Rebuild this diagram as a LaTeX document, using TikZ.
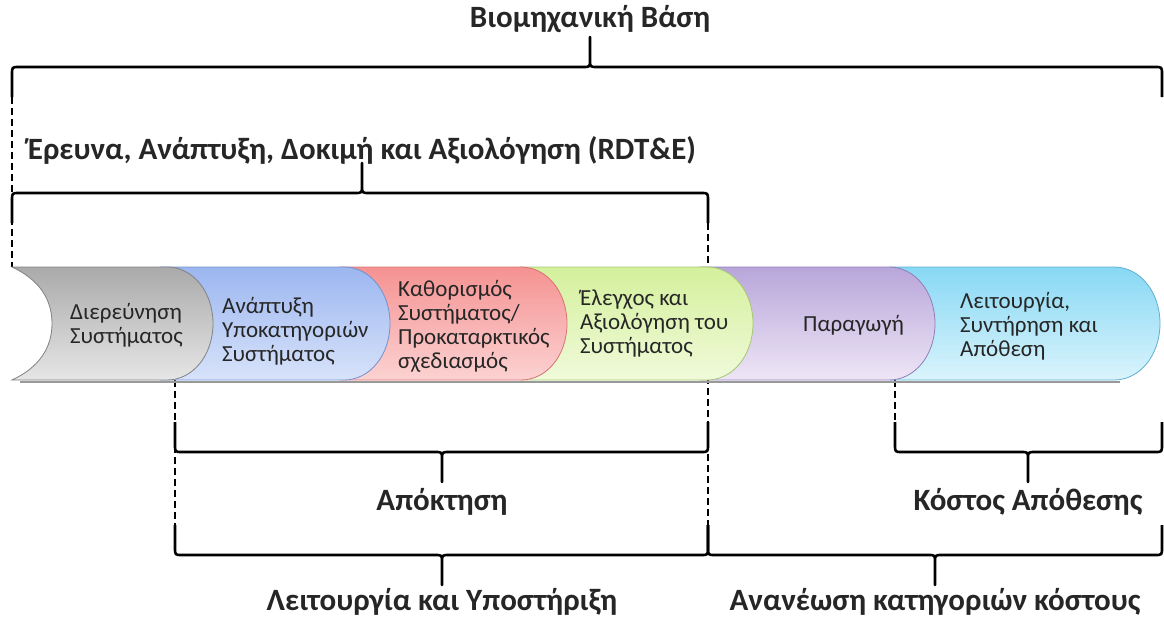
\documentclass[tikz,border=0pt]{standalone}
\usepackage{fontspec}
\setmainfont{Carlito}
\definecolor{grayT}{RGB}{170,170,170}
\definecolor{grayB}{RGB}{230,230,230}
\definecolor{grayE}{RGB}{130,130,130}
\definecolor{blueT}{RGB}{156,182,240}
\definecolor{blueB}{RGB}{216,227,250}
\definecolor{blueE}{RGB}{115,145,205}
\definecolor{redT}{RGB}{245,146,146}
\definecolor{redB}{RGB}{252,210,210}
\definecolor{redE}{RGB}{215,115,115}
\definecolor{greenT}{RGB}{212,240,156}
\definecolor{greenB}{RGB}{240,250,218}
\definecolor{greenE}{RGB}{165,200,115}
\definecolor{purpleT}{RGB}{184,166,218}
\definecolor{purpleB}{RGB}{238,230,246}
\definecolor{purpleE}{RGB}{145,125,185}
\definecolor{cyanT}{RGB}{136,216,244}
\definecolor{cyanB}{RGB}{218,244,252}
\definecolor{cyanE}{RGB}{95,175,210}
% bar with ends and a middle tip; #5 > 0: ends go down, tip goes up
\newcommand{\drawbrace}[5]{
  \draw[braceline] (#1,#3+#5) -- (#1,#3+0.25*#5) .. controls (#1,#3) .. (#1+7,#3) -- (#4-7,#3)
    .. controls (#4,#3) .. (#4,#3-0.25*#5) -- (#4,#3-#5) -- (#4,#3-0.25*#5)
    .. controls (#4,#3) .. (#4+7,#3) -- (#2-7,#3) .. controls (#2,#3) .. (#2,#3+0.25*#5) -- (#2,#3+#5);
}
% phase with a rounded right end
\newcommand{\phasebar}[5]{
  \path[draw=#5, line width=0.8pt, top color=#3, bottom color=#4] (#1,267) -- (#2-46,267)
    .. controls (#2-20,267) and (#2,292) .. (#2,323.5) .. controls (#2,355) and (#2-20,380) .. (#2-46,380)
    -- (#1,380) -- cycle;
}
\tikzset{
  braceline/.style={line width=2.6pt, line join=round, black},
  guide/.style={line width=1.6pt, dash pattern=on 7pt off 4pt, black},
  bracelabel/.style={font=\fontsize{31}{35}\selectfont\bfseries, text=black!85, inner sep=0pt, anchor=base},
  phasetext/.style={font=\fontsize{23}{24}\selectfont, text=black!85, align=left, inner sep=0pt, anchor=west}
}
\begin{document}
\begin{tikzpicture}[x=1pt,y=-1pt]
\useasboundingbox (0,0) rectangle (1164,618);
% dashed guides
\draw[guide] (12,97) -- (12,267);
\draw[guide] (708,223) -- (708,525);
\draw[guide] (175,380) -- (175,525);
\draw[guide] (895,380) -- (895,422);
% braces
\drawbrace{12}{1162}{67}{590}{30}
\drawbrace{12}{708}{193}{362}{30}
\drawbrace{175}{708}{452}{442}{-30}
\drawbrace{895}{1162}{452}{1028}{-30}
\drawbrace{175}{708}{555}{442}{-30}
\drawbrace{708}{1162}{555}{935}{-30}
\node[bracelabel] (base) at (590,28) {Βιομηχανική Βάση};
\node[bracelabel] (rdte) at (362,159) {Έρευνα, Ανάπτυξη, Δοκιμή και Αξιολόγηση (RDT\&E)};
\node[bracelabel] (acq) at (442,510) {Απόκτηση};
\node[bracelabel] (disp) at (1028,510) {Κόστος Απόθεσης};
\node[bracelabel] (ops) at (442,610) {Λειτουργία και Υποστήριξη};
\node[bracelabel] (renew) at (935,610) {Ανανέωση κατηγοριών κόστους};
% phases, last one first
\draw[gray!80, line width=2pt] (20,382) -- (1120,382);
\phasebar{890}{1160}{cyanT}{cyanB}{cyanE}
\phasebar{700}{935}{purpleT}{purpleB}{purpleE}
\phasebar{520}{753}{greenT}{greenB}{greenE}
\phasebar{340}{567}{redT}{redB}{redE}
\phasebar{160}{390}{blueT}{blueB}{blueE}
\path[draw=grayE, line width=0.8pt, top color=grayT, bottom color=grayB] (12,267) -- (167,267)
  .. controls (193,267) and (213,292) .. (213,323.5) .. controls (213,355) and (193,380) .. (167,380)
  -- (12,380) .. controls (40,367) and (52,347) .. (52,323.5) .. controls (52,300) and (40,280) .. (12,267) -- cycle;
\node[phasetext] (explore) at (70,325) {Διερεύνηση\\Συστήματος};
\node[phasetext] (subsys) at (222,331) {Ανάπτυξη\\Υποκατηγοριών\\Συστήματος};
\node[phasetext] (define) at (398,326) {Καθορισμός\\Συστήματος/\\Προκαταρκτικός\\σχεδιασμός};
\node[phasetext] (test) at (580,324) {Έλεγχος και\\Αξιολόγηση του\\Συστήματος};
\node[phasetext] (prod) at (803,325) {Παραγωγή};
\node[phasetext] (oper) at (960,326) {Λειτουργία,\\Συντήρηση και\\Απόθεση};
\end{tikzpicture}
\end{document}
